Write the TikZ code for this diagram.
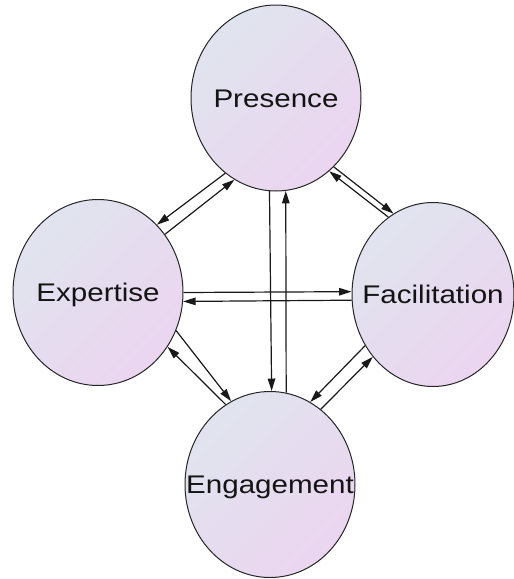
\documentclass[tikz,border=0pt]{standalone}
\usepackage{fontspec}
\setmainfont{Liberation Sans}
\usetikzlibrary{shapes.geometric,arrows.meta}
\definecolor{cTL}{HTML}{E0E4EE}
\definecolor{cBR}{HTML}{EBD5F0}
\definecolor{txt}{HTML}{141414}
\tikzset{
  bubble/.style={ellipse, draw=black!85, line width=1pt, inner sep=0pt,
    minimum width=170pt, minimum height=186pt,
    top color=cTL, bottom color=cBR, shading angle=45,
    font=\fontsize{25.5}{30}\selectfont, text=txt},
  link/.style={line width=1.2pt, draw=black!90, -{Triangle[length=12.5pt,width=7.5pt]}}
}
\newcommand{\wlabel}[1]{\smash{\makebox[0pt]{\raisebox{-9pt}{\scalebox{1.16}[1]{#1}}}}}
\begin{document}
\begin{tikzpicture}[x=1pt,y=-1pt]
\useasboundingbox (0,0) rectangle (514,579);
\node[bubble] (P) at (276,98) {\wlabel{Presence}};
\node[bubble] (E) at (98,292.5) {\wlabel{Expertise}};
\node[bubble, minimum width=162pt, minimum height=184pt] (F) at (433,294.5) {\wlabel{Facilitation}};
\node[bubble] (G) at (270,484.5) {\wlabel{Engagement}};
% Presence - Expertise
\draw[link] (P.-124.6) -- (E.49.4);
\draw[link] (E.41.8) -- (P.-117.7);
% Presence - Facilitation
\draw[link] (P.-50.8) -- (F.116.5);
\draw[link] (F.120.2) -- (P.-54.6);
% Expertise - Facilitation
\draw[link] (E.0) -- (F.178.2);
\draw[link] (F.184.9) -- (E.-6.6);
% Presence - Engagement
\draw[link] (P.-94.9) -- (G.89.4);
\draw[link] (G.80.7) -- (P.-84.5);
% Expertise - Engagement
\draw[link] (E.-26) -- (G.115.8);
\draw[link] (G.119) -- (E.-38.4);
% Facilitation - Engagement
\draw[link] (F.-143.2) -- (G.64.2);
\draw[link] (G.56.7) -- (F.-134.6);
\end{tikzpicture}
\end{document}
